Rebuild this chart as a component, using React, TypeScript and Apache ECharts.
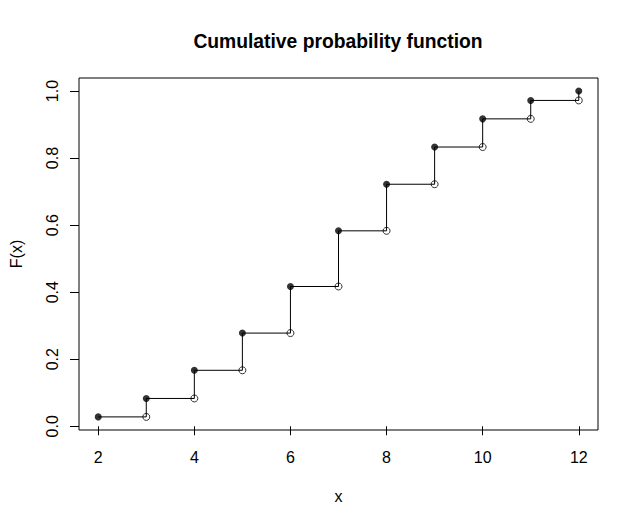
import { useEffect, useRef } from 'react';
import * as echarts from 'echarts';

// sum of two dice: x values and cumulative probabilities
const xValues = [2, 3, 4, 5, 6, 7, 8, 9, 10, 11, 12];
const cumulative = [0.028, 0.083, 0.167, 0.278, 0.417, 0.583, 0.722, 0.833, 0.917, 0.972, 1.0];

const xTicks = [2, 4, 6, 8, 10, 12];
const yTicks = [0, 0.2, 0.4, 0.6, 0.8, 1.0];

const FONT = '"Liberation Sans", Arial, sans-serif';

export default function App() {
  const chartRef = useRef<HTMLDivElement>(null);

  useEffect(() => {
    if (!chartRef.current) return;
    const chart = echarts.init(chartRef.current, null, { renderer: 'svg' });

    const filled = xValues.map((x, i) => [x, cumulative[i]]);
    // open circles: the left limit at each jump
    const open = xValues.slice(1).map((x, i) => [x, cumulative[i]]);

    chart.setOption({
      animation: false,
      backgroundColor: '#fff',
      textStyle: { fontFamily: FONT, color: '#000' },
      // title centred over the plot region, like R does
      graphic: [
        {
          type: 'text',
          x: 338,
          y: 41,
          style: {
            text: 'Cumulative probability function',
            font: `bold 19.3px ${FONT}`,
            fill: '#000',
            textAlign: 'center',
            textVerticalAlign: 'middle',
          },
        },
      ],
      grid: {
        left: 78,
        right: 41,
        top: 78,
        bottom: 98,
        show: true,
        borderColor: '#000',
        borderWidth: 1,
      },
      xAxis: {
        type: 'value',
        min: 1.6,
        max: 12.4,
        name: 'x',
        nameLocation: 'middle',
        nameGap: 58,
        nameTextStyle: { fontFamily: FONT, fontSize: 16, color: '#000' },
        axisLine: { show: false },
        splitLine: { show: false },
        axisTick: {
          show: true,
          length: 9,
          customValues: xTicks,
          lineStyle: { color: '#000', width: 1 },
        },
        axisLabel: {
          customValues: xTicks,
          margin: 19,
          fontFamily: FONT,
          fontSize: 16,
          color: '#000',
        },
      },
      yAxis: {
        type: 'value',
        min: -0.0111,
        max: 1.0389,
        name: 'F(x)',
        nameLocation: 'middle',
        nameGap: 55,
        nameTextStyle: { fontFamily: FONT, fontSize: 16, color: '#000' },
        axisLine: { show: false },
        splitLine: { show: false },
        axisTick: {
          show: true,
          length: 9,
          customValues: yTicks,
          lineStyle: { color: '#000', width: 1 },
        },
        axisLabel: {
          customValues: yTicks,
          rotate: 90,
          margin: 19,
          fontFamily: FONT,
          fontSize: 16,
          color: '#000',
          formatter: (v: number) => v.toFixed(1),
        },
      },
      series: [
        {
          type: 'line',
          step: 'end',
          data: filled,
          showSymbol: false,
          symbol: 'none',
          lineStyle: { color: '#000', width: 1 },
          z: 1,
        },
        {
          type: 'scatter',
          data: filled,
          symbol: 'circle',
          symbolSize: 7,
          itemStyle: { color: '#000' },
          z: 3,
        },
        {
          type: 'scatter',
          data: open,
          symbol: 'circle',
          symbolSize: 7,
          itemStyle: { color: 'rgba(0,0,0,0)', borderColor: '#000', borderWidth: 1 },
          z: 2,
        },
      ],
    });

    return () => {
      chart.dispose();
    };
  }, []);

  return (
    <div
      ref={chartRef}
      style={{ position: 'fixed', left: 0, top: 0, width: 639, height: 528 }}
    />
  );
}
